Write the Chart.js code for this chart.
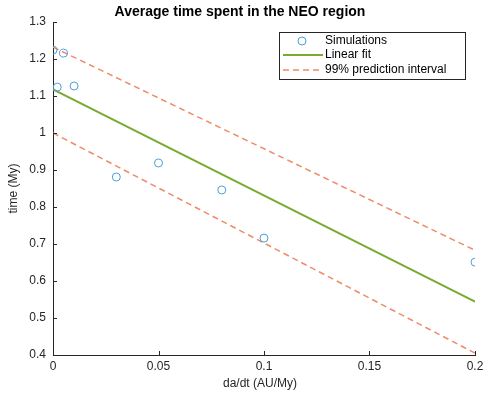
<!DOCTYPE html>
<html>
<head>
<meta charset="utf-8">
<script src="https://cdn.jsdelivr.net/npm/chart.js@4"></script>
<style>
  html, body { margin: 0; padding: 0; background: #fff; }
  #wrap { width: 484px; height: 395px; }
</style>
</head>
<body>
<div id="wrap"><canvas id="chart" width="484" height="395"></canvas></div>
<script>
const simX = [0, 0.002, 0.005, 0.01, 0.03, 0.05, 0.08, 0.1, 0.2];
const simY = [1.224, 1.124, 1.216, 1.127, 0.881, 0.919, 0.846, 0.716, 0.651];
const fitX = [0, 0.2];
const fitY = [1.118, 0.544];
const upperY = [1.232, 0.683];
const lowerY = [1.0, 0.405];

const FONT = '"Liberation Sans", Arial, sans-serif';
const AXIS = '#262626';
const BLUE = '#4a9fdb';
const GREEN = '#77ac30';
const ORANGE = '#ee8c6a';

const toPts = (xs, ys) => xs.map((x, i) => ({ x: x, y: ys[i] }));
const fmt = v => String(parseFloat(v.toFixed(4)));

// title, axis labels, inward ticks and the boxed legend
const decor = {
    id: 'decor',
    afterDraw(chart) {
        const c = chart.ctx;
        const a = chart.chartArea;
        const sx = chart.scales.x, sy = chart.scales.y;
        c.save();
        c.strokeStyle = AXIS;
        c.lineWidth = 1;
        c.beginPath();
        sx.ticks.forEach(t => {
            const px = Math.round(sx.getPixelForValue(t.value)) + 0.5;
            c.moveTo(px, a.bottom); c.lineTo(px, a.bottom - 4);
        });
        sy.ticks.forEach(t => {
            const py = Math.round(sy.getPixelForValue(t.value)) + 0.5;
            c.moveTo(a.left, py); c.lineTo(a.left + 4, py);
        });
        c.stroke();

        c.fillStyle = '#000';
        c.font = 'bold 14px ' + FONT;
        c.textAlign = 'center';
        c.textBaseline = 'middle';
        c.fillText('Average time spent in the NEO region', 240, 12);

        c.fillStyle = AXIS;
        c.font = '12px ' + FONT;
        c.fillText('da/dt (AU/My)', 260, 384);
        c.save();
        c.translate(14, (a.top + a.bottom) / 2);
        c.rotate(-Math.PI / 2);
        c.fillText('time (My)', 0, 0);
        c.restore();

        // legend
        const lx = 279, ly = 32, lw = 186, lh = 47;
        c.fillStyle = '#fff';
        c.fillRect(lx, ly, lw, lh);
        c.strokeStyle = AXIS;
        c.strokeRect(lx + 0.5, ly + 0.5, lw, lh);
        const rows = [41, 55, 70];
        c.strokeStyle = BLUE;
        c.beginPath();
        c.arc(302, rows[0], 4, 0, Math.PI * 2);
        c.stroke();
        c.strokeStyle = GREEN;
        c.lineWidth = 2;
        c.beginPath(); c.moveTo(283, rows[1]); c.lineTo(323, rows[1]); c.stroke();
        c.strokeStyle = ORANGE;
        c.lineWidth = 1.5;
        c.setLineDash([6, 4]);
        c.beginPath(); c.moveTo(283, rows[2]); c.lineTo(323, rows[2]); c.stroke();
        c.setLineDash([]);
        c.fillStyle = '#000';
        c.textAlign = 'left';
        c.fillText('Simulations', 325, rows[0]);
        c.fillText('Linear fit', 325, rows[1]);
        c.fillText('99% prediction interval', 325, rows[2]);
        c.restore();
    }
};

new Chart(document.getElementById('chart').getContext('2d'), {
    type: 'scatter',
    data: {
        datasets: [
            {
                label: 'Simulations',
                data: toPts(simX, simY),
                pointStyle: 'circle',
                pointRadius: 4,
                borderColor: BLUE,
                backgroundColor: 'rgba(0,0,0,0)',
                borderWidth: 1,
                order: 0
            },
            {
                label: 'Linear fit',
                data: toPts(fitX, fitY),
                showLine: true,
                pointRadius: 0,
                borderColor: GREEN,
                borderWidth: 2,
                order: 2
            },
            {
                label: '99% prediction interval',
                data: toPts(fitX, upperY),
                showLine: true,
                pointRadius: 0,
                borderColor: ORANGE,
                borderWidth: 1.5,
                borderDash: [6, 4],
                order: 1
            },
            {
                label: 'lower',
                data: toPts(fitX, lowerY),
                showLine: true,
                pointRadius: 0,
                borderColor: ORANGE,
                borderWidth: 1.5,
                borderDash: [6, 4],
                order: 1
            }
        ]
    },
    options: {
        responsive: false,
        animation: false,
        layout: { padding: { top: 22, right: 9, left: 0, bottom: 0 } },
        plugins: {
            legend: { display: false },
            title: { display: false },
            tooltip: { enabled: false }
        },
        scales: {
            x: {
                type: 'linear',
                min: 0, max: 0.2,
                ticks: { stepSize: 0.05, color: AXIS, font: { family: FONT, size: 12 }, padding: 4, callback: fmt },
                grid: { display: false, drawTicks: false },
                border: { display: true, color: AXIS, width: 1 },
                afterFit(s) { s.height = 40; s.paddingRight = 0; }
            },
            y: {
                min: 0.4, max: 1.3,
                ticks: { stepSize: 0.1, color: AXIS, font: { family: FONT, size: 12 }, padding: 7, callback: fmt },
                grid: { display: false, drawTicks: false },
                border: { display: true, color: AXIS, width: 1 },
                afterFit(s) { s.width = 53; }
            }
        }
    },
    plugins: [decor]
});
</script>
</body>
</html>
